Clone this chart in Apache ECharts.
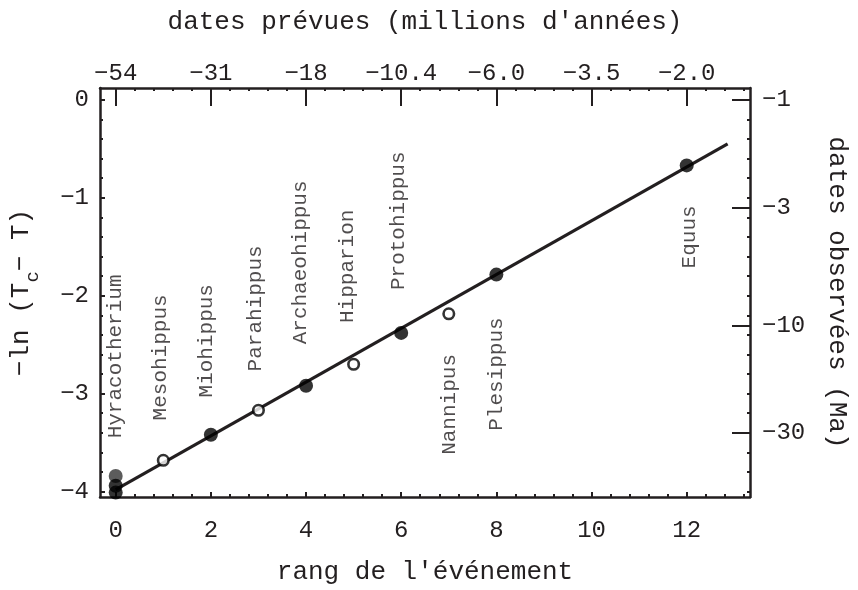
<!DOCTYPE html>
<html><head><meta charset="utf-8">
<script src="https://cdn.jsdelivr.net/npm/echarts@6/dist/echarts.min.js"></script>
<style>html,body{margin:0;padding:0;background:#fff}#c{width:858px;height:590px}</style>
</head><body><div id="c"></div>
<script>
// ---- data ----
const rankTicks = [0, 2, 4, 6, 8, 10, 12];
const predictedDateLabels = ['-54', '-31', '-18', '-10.4', '-6.0', '-3.5', '-2.0'];
const lnTicks = [0, -1, -2, -3, -4];
const observedDates = [-1, -3, -10, -30]; // Ma
const grayRank = [0];
const grayLn = [-3.84];
const filledRank = [0, 0, 2, 4, 6, 8, 12];
const filledLn = [-3.94, -4.01, -3.42, -2.92, -2.38, -1.785, -0.67];
const openRank = [1, 3, 5, 7];
const openLn = [-3.68, -3.17, -2.70, -2.185];
const fitRank = [0, 12.86];
const fitLn = [-3.98, -0.45];
const genera = ['Hyracotherium', 'Mesohippus', 'Miohippus', 'Parahippus', 'Archaeohippus', 'Hipparion', 'Protohippus', 'Nannipus', 'Plesippus', 'Equus'];
const generaRank = [0.0, 0.94, 1.9, 2.93, 3.89, 4.87, 5.94, 7.02, 8.0, 12.06];
const generaLn = [-2.62, -2.63, -2.46, -2.13, -1.66, -1.70, -1.235, -3.11, -2.80, -1.40];

// ---- helpers ----
const INK = '#231f20';
const FONT = '"Liberation Mono", "DejaVu Sans Mono", monospace';
const X_MIN = -0.33, X_MAX = 13.33, Y_MIN = -4.055, Y_MAX = 0.12;
const minorX = []; for (let i = 0; i * 0.4 <= X_MAX; i++) minorX.push(+(i * 0.4).toFixed(2));
const minorY = []; for (let i = 0; -i * 0.2 >= Y_MIN; i++) minorY.push(+(-i * 0.2).toFixed(2));
const observedLn = observedDates.map(t => -Math.log(-t));
const fmtNum = v => (v < 0 ? '\u2212' : '') + Math.abs(Math.round(v));
const pick = (vals, labels) => v => { const i = vals.findIndex(t => Math.abs(t - v) < 1e-6); return i < 0 ? '' : labels[i].replace('-', '\u2212'); };
const pairs = (xs, ys) => xs.map((x, i) => [x, ys[i]]);

const baseX = {type: 'value', min: X_MIN, max: X_MAX, splitLine: {show: false}};
const baseY = {type: 'value', min: Y_MIN, max: Y_MAX, splitLine: {show: false}};
const line = {show: true, onZero: false, lineStyle: {color: INK, width: 2.5}};
const noLine = {show: false, onZero: false};
const lbl = {fontFamily: FONT, fontSize: 24, color: INK};
const nameStyle = {fontFamily: FONT, fontSize: 26, color: INK};

const option = {
  animation: false,
  backgroundColor: '#fff',
  grid: {left: 98, right: 93, top: 88, bottom: 91, containLabel: false},
  xAxis: [
    Object.assign({}, baseX, {position: 'bottom', axisLine: line,
      axisTick: {show: true, inside: true, length: 5, customValues: rankTicks, lineStyle: {color: INK, width: 2}},
      axisLabel: Object.assign({}, lbl, {customValues: rankTicks, margin: 22, formatter: v => String(Math.round(v))}),
      name: "rang de l'événement", nameLocation: 'middle', nameGap: 62, nameTextStyle: nameStyle}),
    Object.assign({}, baseX, {position: 'bottom', axisLine: noLine,
      axisTick: {show: true, inside: true, length: 3, customValues: minorX, lineStyle: {color: INK, width: 2}},
      axisLabel: {show: false}}),
    Object.assign({}, baseX, {position: 'top', axisLine: line,
      axisTick: {show: true, inside: true, length: 18, customValues: rankTicks, lineStyle: {color: INK, width: 2}},
      axisLabel: Object.assign({}, lbl, {customValues: rankTicks, margin: 2, formatter: pick(rankTicks, predictedDateLabels)}),
      name: "dates prévues (millions d'années)", nameLocation: 'middle', nameGap: 53, nameTextStyle: nameStyle}),
    Object.assign({}, baseX, {position: 'top', axisLine: noLine,
      axisTick: {show: true, inside: true, length: 3, customValues: minorX, lineStyle: {color: INK, width: 2}},
      axisLabel: {show: false}})
  ],
  yAxis: [
    Object.assign({}, baseY, {position: 'left', axisLine: line,
      axisTick: {show: true, inside: true, length: 5, customValues: lnTicks, lineStyle: {color: INK, width: 2}},
      axisLabel: Object.assign({}, lbl, {customValues: lnTicks, margin: 11, formatter: fmtNum}),
      name: '{a|\u2212ln (T}{s|c}{a|\u2212 T)}', nameLocation: 'middle', nameGap: 58,
      nameTextStyle: {rich: {a: Object.assign({}, nameStyle, {lineHeight: 34, verticalAlign: 'top'}), s: Object.assign({}, nameStyle, {fontSize: 19, lineHeight: 34, verticalAlign: 'bottom'})}}}),
    Object.assign({}, baseY, {position: 'left', axisLine: noLine,
      axisTick: {show: true, inside: true, length: 3, customValues: minorY, lineStyle: {color: INK, width: 2}},
      axisLabel: {show: false}}),
    Object.assign({}, baseY, {position: 'right', axisLine: line,
      axisTick: {show: true, inside: true, length: 18, customValues: observedLn, lineStyle: {color: INK, width: 2}},
      axisLabel: Object.assign({}, lbl, {customValues: observedLn, margin: 12, formatter: pick(observedLn, observedDates.map(String))}),
      name: 'dates observées (Ma)', nameLocation: 'middle', nameRotate: -90, nameGap: 74, nameTextStyle: nameStyle}),
    Object.assign({}, baseY, {position: 'right', axisLine: noLine,
      axisTick: {show: true, inside: true, length: 3, customValues: minorY, lineStyle: {color: INK, width: 2}},
      axisLabel: {show: false}})
  ],
  series: [
    {type: 'line', data: pairs(fitRank, fitLn), symbol: 'none', silent: true,
      lineStyle: {color: INK, width: 3.2}, z: 2},
    {type: 'scatter', data: pairs(grayRank, grayLn), symbol: 'circle', symbolSize: 14, silent: true,
      itemStyle: {color: '#333'}, z: 3},
    {type: 'scatter', data: pairs(filledRank, filledLn), symbol: 'circle', symbolSize: 14, silent: true,
      itemStyle: {color: '#000'}, z: 4},
    {type: 'scatter', data: pairs(openRank, openLn), symbol: 'circle', symbolSize: 10.5, silent: true,
      itemStyle: {color: '#fff', borderColor: '#000', borderWidth: 2.6}, z: 4},
    {type: 'scatter', data: generaRank.map((x, i) => ({value: [x, generaLn[i]], name: genera[i]})),
      symbol: 'circle', symbolSize: 1, silent: true, itemStyle: {color: 'rgba(0,0,0,0)'}, z: 5,
      label: {show: true, position: 'inside', rotate: 90, align: 'center', verticalAlign: 'middle',
        formatter: p => p.name, fontFamily: FONT, fontSize: 21, color: INK}}
  ]
};
const chart = echarts.init(document.getElementById('c'), null, {renderer: 'canvas'});
chart.setOption(option);
</script>
</body></html>
